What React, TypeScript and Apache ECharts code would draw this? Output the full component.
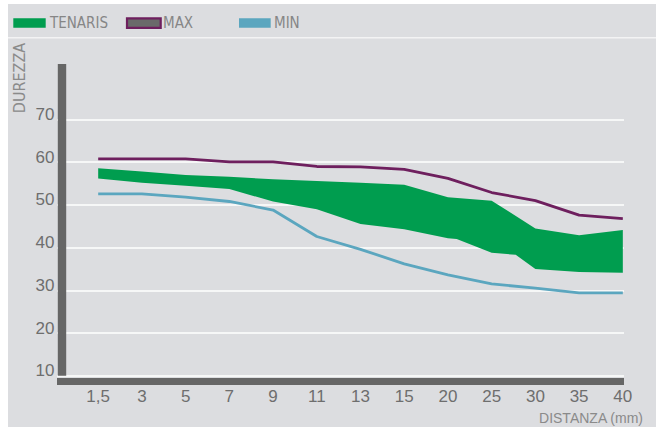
import React, { useEffect, useRef } from 'react';
import * as echarts from 'echarts';

const categories = ['1,5', '3', '5', '7', '9', '11', '13', '15', '20', '25', '30', '35', '40'];
const yTicks = [10, 20, 30, 40, 50, 60, 70];
const maxValues = [60.8, 60.8, 60.8, 60.1, 60.1, 59.0, 58.9, 58.3, 56.2, 52.9, 51.0, 47.6, 46.8];
const minValues = [52.6, 52.6, 51.8, 50.8, 48.8, 42.6, 39.6, 36.2, 33.6, 31.5, 30.5, 29.4, 29.4];
const tenarisUpper = [58.6, 57.8, 57.0, 56.6, 56.0, 55.6, 55.2, 54.7, 51.8, 51.0, 44.5, 42.9, 44.1];
const tenarisLowerX = [0, 1, 2, 3, 4, 5, 6, 7, 8, 8.2, 9, 9.55, 10, 11, 12];
const tenarisLowerY = [56.2, 55.2, 54.5, 53.7, 50.8, 49.0, 45.5, 44.3, 42.2, 42.0, 38.8, 38.3, 35.0, 34.3, 34.1];

const GREEN = '#009d4f';
const PURPLE = '#6e1f5e';
const BLUE = '#5ba6bf';
const BAR = '#666666';
const BG = '#dcdde0';
const NARROW = "'Liberation Sans Narrow', 'DejaVu Sans Condensed', 'Liberation Sans', sans-serif";
const SANS = "'Liberation Sans', Arial, sans-serif";

export default function App() {
  const ref = useRef<HTMLDivElement>(null);
  useEffect(() => {
    if (!ref.current) return;
    const chart = echarts.init(ref.current, undefined, { renderer: 'svg' });
    const option: any = {
      animation: false,
      backgroundColor: BG,
      grid: { left: 49, right: 32, top: 60, bottom: 51.3, containLabel: false },
      xAxis: {
        type: 'value',
        min: -0.942,
        max: 12.027,
        offset: 5.3,
        axisLine: { show: true, onZero: false, lineStyle: { color: BAR, width: 7, cap: 'butt' } },
        axisTick: { show: false, customValues: categories.map((_, i) => i) },
        splitLine: { show: false },
        axisLabel: {
          customValues: categories.map((_, i) => i),
          formatter: (v: number) => categories[Math.round(v)] ?? '',
          color: '#6e6e6e',
          fontSize: 17,
          fontFamily: SANS,
          margin: 7,
        },
      },
      yAxis: {
        type: 'value',
        min: 10,
        max: 83,
        offset: -4.5,
        axisLine: { show: true, onZero: false, lineStyle: { color: BAR, width: 8.4, cap: 'butt' } },
        axisTick: { show: false, customValues: yTicks },
        splitLine: { show: true, lineStyle: { color: '#ffffff', width: 1.6 } },
        axisLabel: {
          customValues: yTicks,
          color: '#6e6e6e',
          fontSize: 17,
          fontFamily: SANS,
          margin: 7,
          verticalAlign: 'bottom',
          lineHeight: 10,
        },
      },
      graphic: [
        { type: 'rect', shape: { x: 0, y: 33, width: 648, height: 1.5 }, style: { fill: '#f3f3f4' } },
        { type: 'rect', shape: { x: 5.3, y: 14.3, width: 32.4, height: 9.4 }, style: { fill: GREEN } },
        { type: 'text', x: 42, y: 18.8, style: { text: 'TENARIS', fill: '#868686', font: `15px ${NARROW}`, verticalAlign: 'middle' } },
        { type: 'rect', shape: { x: 119, y: 14.3, width: 33.7, height: 9.6 }, style: { fill: '#6a6a6a', stroke: PURPLE, lineWidth: 2.2 } },
        { type: 'text', x: 155, y: 18.8, style: { text: 'MAX', fill: '#868686', font: `15px ${NARROW}`, verticalAlign: 'middle' } },
        { type: 'rect', shape: { x: 231, y: 14.3, width: 31.7, height: 9.4 }, style: { fill: BLUE } },
        { type: 'text', x: 266, y: 18.8, style: { text: 'MIN', fill: '#868686', font: `15px ${NARROW}`, verticalAlign: 'middle' } },
        { type: 'text', x: 11, y: 74, rotation: Math.PI / 2, style: { text: 'DUREZZA', fill: '#8a8a8a', font: `16px ${NARROW}`, align: 'center', verticalAlign: 'middle' } },
        { type: 'text', x: 635, y: 414, style: { text: 'DISTANZA (mm)', fill: '#8a8a8a', font: `14px ${SANS}`, align: 'right', verticalAlign: 'middle' } },
      ],
      series: [
        {
          name: 'TENARIS',
          type: 'custom',
          data: [[0, 50]],
          renderItem: (_params: any, api: any) => {
            const pts: number[][] = [];
            tenarisUpper.forEach((v, i) => pts.push(api.coord([i, v])));
            for (let k = tenarisLowerX.length - 1; k >= 0; k--) {
              pts.push(api.coord([tenarisLowerX[k], tenarisLowerY[k]]));
            }
            return { type: 'polygon', shape: { points: pts }, style: { fill: GREEN } };
          },
        },
        {
          name: 'MAX',
          type: 'line',
          data: maxValues.map((v, i) => [i, v]),
          symbol: 'none',
          lineStyle: { color: PURPLE, width: 2.8 },
        },
        {
          name: 'MIN',
          type: 'line',
          data: minValues.map((v, i) => [i, v]),
          symbol: 'none',
          lineStyle: { color: BLUE, width: 2.8 },
        },
      ],
    };
    chart.setOption(option);
    return () => chart.dispose();
  }, []);
  return (
    <div
      ref={ref}
      style={{ position: 'absolute', left: 8, top: 4, width: 648, height: 423 }}
    />
  );
}
